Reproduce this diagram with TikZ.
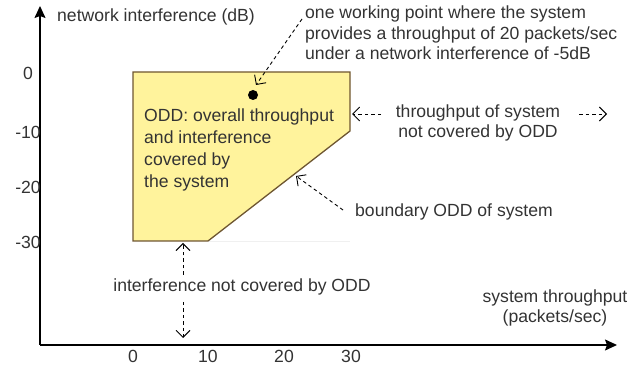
\documentclass[tikz,border=0pt]{standalone}
\usepackage{fontspec}
\setmainfont{Liberation Sans}
\usetikzlibrary{arrows.meta}
\definecolor{oddfill}{HTML}{FFF39C}
\definecolor{oddline}{HTML}{6E5631}
\definecolor{txt}{HTML}{333333}
\tikzset{
  lbl/.style={inner sep=0pt, text=txt, font=\fontsize{17.6}{20.5}\selectfont},
  axis/.style={line width=1.4pt, -{Stealth[length=12pt,width=11pt,inset=2pt]}},
  dasharrow/.style={line width=0.9pt, dash pattern=on 3.5pt off 3pt, -{Straight Barb[length=7pt,width=14pt]}}
}
\begin{document}
\begin{tikzpicture}[x=1pt,y=-1pt]
\useasboundingbox (0,0) rectangle (635,371);
% axes
\coordinate (origin) at (40,345);
\coordinate (ytip) at (40,6);
\coordinate (xtip) at (617,345);
\draw[axis] (origin) -- (ytip);
\draw[axis] (origin) -- (xtip);
\node[lbl, anchor=west] (ylab) at (57,17) {network interference (dB)};
\node[lbl, align=center] (xlab) at (555,308) {system throughput\\(packets/sec)};
% tick labels
\node[lbl] (y0) at (28,73) {0};
\node[lbl] (y10) at (28,132) {-10};
\node[lbl] (y20) at (28,187) {-20};
\node[lbl] (y30) at (28,242) {-30};
\node[lbl] (x0) at (133,356) {0};
\node[lbl] (x10) at (208,356) {10};
\node[lbl] (x20) at (284,356) {20};
\node[lbl] (x30) at (351,356) {30};
% faint guide
\draw[black!6, line width=0.8pt] (208,241) -- (350,241);
% ODD region
\coordinate (p1) at (133,72);
\coordinate (p2) at (350,72);
\coordinate (p3) at (350,131);
\coordinate (p4) at (208,241);
\coordinate (p5) at (133,241);
\draw[fill=oddfill, draw=oddline, line width=1.3pt] (p1) -- (p2) -- (p3) -- (p4) -- (p5) -- cycle;
\node[lbl, anchor=west, align=left, font=\fontsize{17.6}{22}\selectfont] (odd) at (144,150) {ODD: overall throughput\\and interference\\covered by\\the system};
% working point
\fill (253,95) circle (5);
\coordinate (wp) at (256,85);
\node[lbl, anchor=west, align=left] (wptxt) at (305,33) {one working point where the system\\provides a throughput of 20 packets/sec\\under a network interference of -5dB};
\coordinate (wpstart) at (302,19);
\draw[dasharrow] (wpstart) -- (wp);
% throughput not covered
\node[lbl, align=center] (thr) at (478,123) {throughput of system\\not covered by ODD};
\coordinate (thrL1) at (381,114);
\coordinate (thrL2) at (352,114);
\coordinate (thrR1) at (579,114);
\coordinate (thrR2) at (607,114);
\draw[dasharrow] (thrL1) -- (thrL2);
\draw[dasharrow] (thrR1) -- (thrR2);
% boundary
\node[lbl, anchor=west] (bnd) at (355,212) {boundary ODD of system};
\coordinate (bS) at (343,210);
\coordinate (bT) at (296,176);
\draw[dasharrow] (bS) -- (bT);
% interference not covered
\node[lbl] (intf) at (242,287) {interference not covered by ODD};
\coordinate (iU1) at (183,275);
\coordinate (iU2) at (183,243);
\coordinate (iD1) at (183,302);
\coordinate (iD2) at (183,338);
\draw[dasharrow] (iU1) -- (iU2);
\draw[dasharrow] (iD1) -- (iD2);
\end{tikzpicture}
\end{document}
